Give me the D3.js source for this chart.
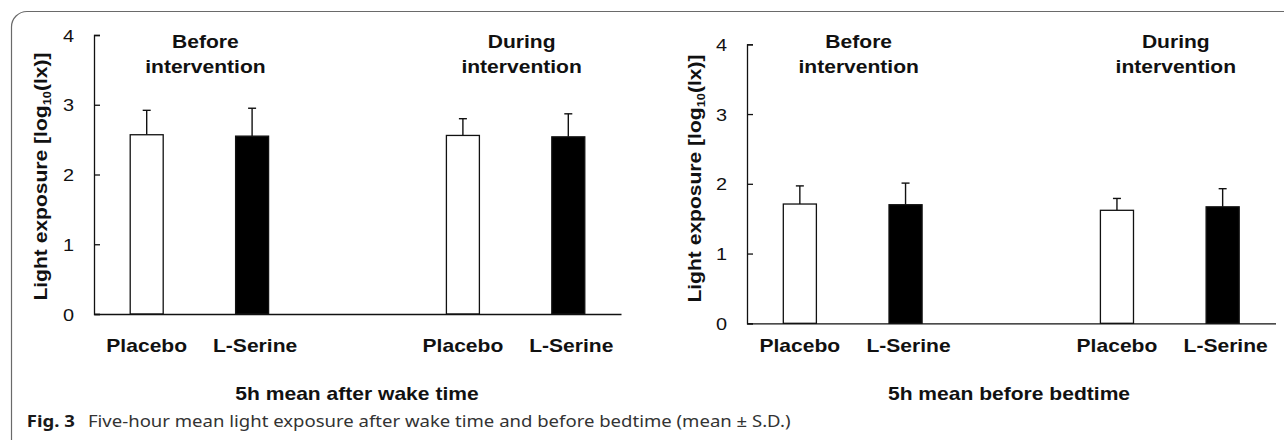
<!DOCTYPE html>
<html lang="en">
  <head>
    <meta charset="utf-8">
    <title>Fig. 3 light exposure</title>
    <script src="https://cdn.jsdelivr.net/npm/d3@7"></script>
    <style>
      html, body { margin: 0; padding: 0; background: #fff; }
      svg { display: block; }
      .lbl { font-family: "Liberation Sans", Arial, sans-serif; fill: #111; }
    </style>
  </head>
  <body>
    <svg id="chart" width="1284" height="440"></svg>

  <script>
    // data
    var groups = ["Before intervention", "During intervention"];
    var treatments = ["Placebo", "L-Serine"];
    var fills = ["#fff", "#000"];
    // order: before/placebo, before/L-serine, during/placebo, during/L-serine
    var wakeMean = [2.57, 2.55, 2.56, 2.54];
    var wakeSD   = [0.35, 0.40, 0.24, 0.33];
    var bedMean  = [1.71, 1.70, 1.62, 1.67];
    var bedSD    = [0.26, 0.31, 0.17, 0.26];
    var yTicks = [0, 1, 2, 3, 4];
    var panelTitles = ["5h mean after wake time", "5h mean before bedtime"];
    var captionBold = "Fig. 3";
    var captionText = "Five-hour mean light exposure after wake time and before bedtime (mean \u00b1 S.D.)";

    var SX = 1.17; // the source text is drawn a bit wide

    // panel layout
    var panels = [
      { mean: wakeMean, sd: wakeSD, title: panelTitles[0],
        x0: 94, x1: 621, yTop: 35, yBot: 314, xLabY: 352, subX: 357, ylabX: 47, ylabY: 176.5 },
      { mean: bedMean, sd: bedSD, title: panelTitles[1],
        x0: 747, x1: 1275.5, yTop: 44.3, yBot: 323.3, xLabY: 352, subX: 1009, ylabX: 701, ylabY: 178.5 }
    ];

    var svg = d3.select("#chart");

    // rounded frame of the figure box
    svg.append("path")
        .attr("d", "M11.5,440 V27 A15.5,15.5 0 0 1 27,11.5 H1284")
        .attr("fill", "none")
        .attr("stroke", "#6a6a6a")
        .attr("stroke-width", 1.2);

    function wideText(g, x, y, str, size, weight, anchor) {
      return g.append("text")
          .attr("class", "lbl")
          .attr("transform", "translate(" + x + "," + y + ") scale(" + SX + ",1)")
          .attr("text-anchor", anchor || "middle")
          .attr("font-size", size)
          .attr("font-weight", weight)
          .text(str);
    }

    // slot keys: two bars per group with an empty slot between groups
    var slots = [];
    groups.forEach(function(gname, gi) {
      if (gi > 0) slots.push("gap" + gi);
      treatments.forEach(function(t, ti) { slots.push(gi + "-" + ti); });
    });

    panels.forEach(function(p) {
      var g = svg.append("g");

      var x = d3.scaleBand().domain(slots).range([p.x0, p.x1])
          .paddingInner(0.687).paddingOuter(0.3435);
      var y = d3.scaleLinear().domain([0, 4]).range([p.yBot, p.yTop]);

      var rows = [];
      groups.forEach(function(gname, gi) {
        treatments.forEach(function(t, ti) {
          var i = gi * treatments.length + ti;
          rows.push({ key: gi + "-" + ti, t: ti, mean: p.mean[i], sd: p.sd[i] });
        });
      });

      // error bars (upper only)
      var eb = g.selectAll(".err").data(rows).enter().append("g");
      eb.append("line")
          .attr("x1", function(d) { return x(d.key) + x.bandwidth() / 2; })
          .attr("x2", function(d) { return x(d.key) + x.bandwidth() / 2; })
          .attr("y1", function(d) { return y(d.mean); })
          .attr("y2", function(d) { return y(d.mean + d.sd); })
          .attr("stroke", "#111").attr("stroke-width", 1.4);
      eb.append("line")
          .attr("x1", function(d) { return x(d.key) + x.bandwidth() / 2 - 4; })
          .attr("x2", function(d) { return x(d.key) + x.bandwidth() / 2 + 4; })
          .attr("y1", function(d) { return y(d.mean + d.sd); })
          .attr("y2", function(d) { return y(d.mean + d.sd); })
          .attr("stroke", "#111").attr("stroke-width", 1.4);

      // bars
      g.selectAll(".bar").data(rows).enter().append("rect")
          .attr("x", function(d) { return x(d.key); })
          .attr("width", x.bandwidth())
          .attr("y", function(d) { return y(d.mean); })
          .attr("height", function(d) { return y(0) - y(d.mean); })
          .attr("fill", function(d) { return fills[d.t]; })
          .attr("stroke", "#111")
          .attr("stroke-width", 1.3);

      // y axis, ticks point inwards
      var yAxis = g.append("g")
          .attr("transform", "translate(" + p.x0 + ",0)")
          .call(d3.axisLeft(y).tickValues(yTicks).tickFormat(d3.format("d"))
                .tickSizeInner(-6).tickSizeOuter(-6).tickPadding(0));
      yAxis.selectAll("path, line").attr("stroke", "#111").attr("stroke-width", 1.3);
      yAxis.selectAll("text")
          .attr("class", "lbl")
          .attr("font-size", 17)
          .attr("font-family", null)
          .attr("x", -20 / SX)
          .attr("dy", "0.36em")
          .attr("transform", "scale(" + SX + ",1)");

      // x axis line only
      var xAxis = g.append("g")
          .attr("transform", "translate(0," + p.yBot + ")")
          .call(d3.axisBottom(x).tickValues([]).tickSizeOuter(0));
      xAxis.select("path").attr("stroke", "#111").attr("stroke-width", 1.3);

      // treatment labels
      rows.forEach(function(d) {
        wideText(g, x(d.key) + x.bandwidth() / 2 + (d.t ? 3 : 0), p.xLabY, treatments[d.t], 18, "bold");
      });

      // group titles, two lines
      groups.forEach(function(gname, gi) {
        var cx = (x(gi + "-0") + x(gi + "-1") + x.bandwidth()) / 2 + 6;
        var words = gname.split(" ");
        wideText(g, cx, 47.5, words[0], 18, "bold");
        wideText(g, cx, 72.7, words[1], 18, "bold");
      });

      // panel subtitle
      wideText(g, p.subX, 400, p.title, 18, "bold");

      // y label
      var yl = g.append("text")
          .attr("class", "lbl")
          .attr("transform", "translate(" + p.ylabX + "," + p.ylabY + ") rotate(-90) scale(" + SX + ",1)")
          .attr("text-anchor", "middle")
          .attr("font-size", 18)
          .attr("font-weight", "bold");
      yl.append("tspan").text("Light exposure [log");
      yl.append("tspan").attr("font-size", 11).attr("dy", 4).text("10");
      yl.append("tspan").attr("dy", -4).text("(lx)]");
    });

    // caption
    var cap = svg.append("text")
        .attr("font-family", "'Noto Sans', 'Open Sans', sans-serif")
        .attr("font-size", 15.5)
        .attr("fill", "#333");
    cap.append("tspan").attr("font-weight", "bold").attr("fill", "#1a1a1a").text(captionBold);
    cap.append("tspan").attr("dx", 11).text(captionText);
    var w = cap.node().getComputedTextLength();
    var target = 778 - 26.7;
    cap.attr("transform", "translate(26.7,427) scale(" + (target / w) + ",1)");
  </script>
  </body>
</html>
